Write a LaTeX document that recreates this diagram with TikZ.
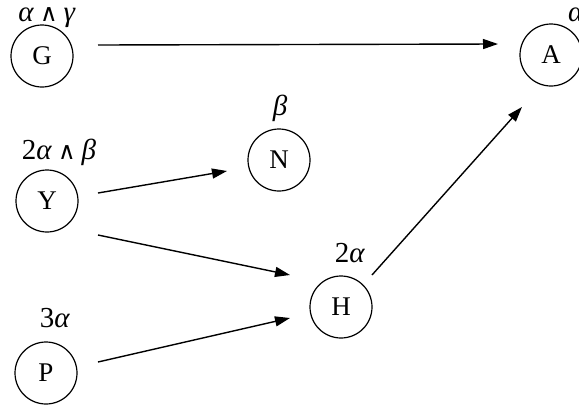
\documentclass[tikz,border=0pt]{standalone}
\usepackage{fontspec}
\setmainfont{Liberation Serif}
\newfontfamily\symf{DejaVu Sans}
\newcommand{\wdg}{\hspace{6pt}{\symf\fontsize{24}{30}\selectfont ∧}\hspace{6pt}}
\usetikzlibrary{arrows.meta}
\begin{document}
\begin{tikzpicture}[x=1pt,y=-1pt,
  state/.style={circle,draw,line width=1.2pt,minimum size=62pt,inner sep=0pt,font=\fontsize{27}{32}\selectfont},
  lab/.style={inner sep=0pt,font=\fontsize{29}{33}\selectfont},
  arr/.style={line width=1.4pt,-{Triangle[length=15pt,width=10pt]}}]
\useasboundingbox (0,0) rectangle (579,405);
\node[state] (G) at (42,56) {G};
\node[state] (A) at (551,55) {A};
\node[state] (Y) at (47,201) {Y};
\node[state] (N) at (279,160) {N};
\node[state] (H) at (341,307) {H};
\node[state] (P) at (46,373) {P};
\node[lab] (lG) at (47,18) {\textit{α}\wdg\textit{γ}};
\node[lab,anchor=west] (lA) at (568,15) {\textit{α}};
\node[lab] (lY) at (59,152) {2\textit{α}\wdg\textit{β}};
\node[lab] (lN) at (280,108) {\textit{β}};
\node[lab] (lH) at (350,253) {2\textit{α}};
\node[lab] (lP) at (55,318) {3\textit{α}};
\draw[arr] ([shift={(56,-11)}]G.center) -- ([shift={(-53,-11)}]A.center);
\draw[arr] ([shift={(51,-8)}]Y.center) -- ([shift={(-52,11)}]N.center);
\draw[arr] ([shift={(51,34)}]Y.center) -- ([shift={(-51,-32)}]H.center);
\draw[arr] ([shift={(52,-11)}]P.center) -- ([shift={(-51,11)}]H.center);
\draw[arr] ([shift={(31,-32)}]H.center) -- ([shift={(-29,52)}]A.center);
\end{tikzpicture}
\end{document}
